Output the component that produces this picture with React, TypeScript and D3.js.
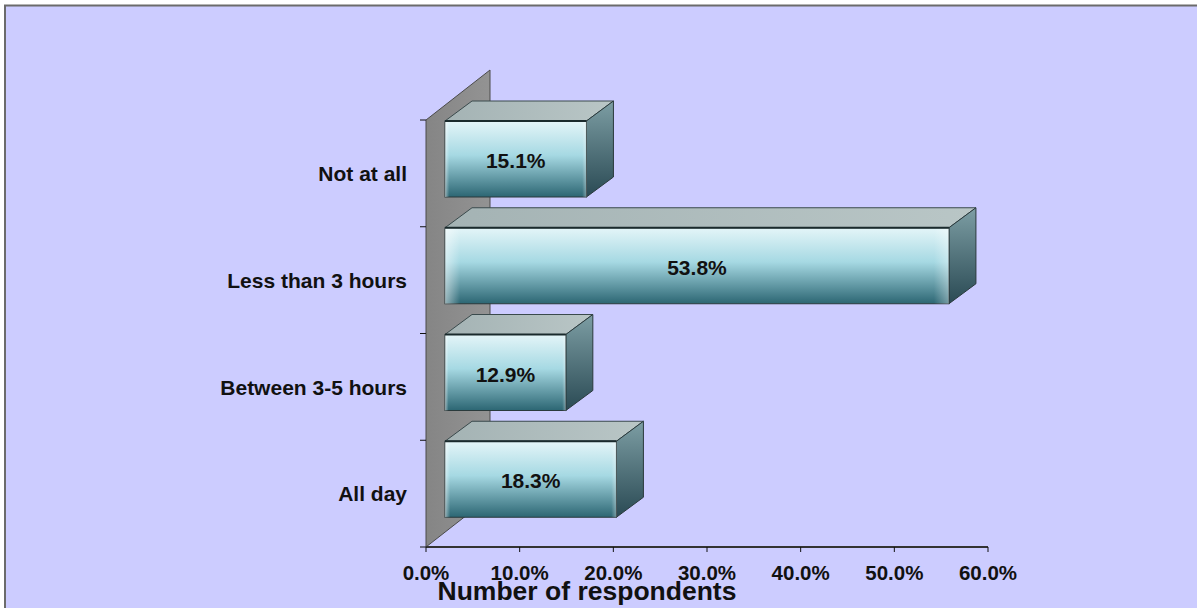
import React from 'react';
import * as d3 from 'd3';

const categories = ['Not at all', 'Less than 3 hours', 'Between 3-5 hours', 'All day'];
const values = [0.151, 0.538, 0.129, 0.183];
const xTicks = [0, 0.1, 0.2, 0.3, 0.4, 0.5, 0.6];
const xTitle = 'Number of respondents';

const W = 1197, H = 608;
const font = 'Arial, "Liberation Sans", sans-serif';

export default function App() {
    const x = d3.scaleLinear().domain([0, 0.6]).range([426, 988]);
    const y = d3.scaleBand().domain(categories).range([120, 547]);
    const fmt = d3.format('.1%');

    // 3D depth of wall and bars
    const wallDx = 64, wallDy = -50;
    const barDx = 27, barDy = -20;
    const barShift = 19;
    const barH = 76;

    const x0 = x(0);
    const yTop = y.range()[0], yBot = y.range()[1];

    return (
        <svg width={W} height={H} style={{ position: 'absolute', left: 0, top: 0 }}>
            <defs>
                <linearGradient id="front" x1="0" y1="0" x2="0" y2="1">
                    <stop offset="0" stopColor="#e4f5f8" />
                    <stop offset="0.45" stopColor="#a6d9e3" />
                    <stop offset="1" stopColor="#2c6673" />
                </linearGradient>
                <linearGradient id="frontEdge" x1="0" y1="0" x2="1" y2="0">
                    <stop offset="0" stopColor="#ffffff" stopOpacity="0.5" />
                    <stop offset="0.03" stopColor="#ffffff" stopOpacity="0" />
                    <stop offset="0.97" stopColor="#ffffff" stopOpacity="0" />
                    <stop offset="1" stopColor="#ffffff" stopOpacity="0.35" />
                </linearGradient>
                <linearGradient id="top" x1="0" y1="0" x2="1" y2="0">
                    <stop offset="0" stopColor="#a4b3b4" />
                    <stop offset="1" stopColor="#b9c6c6" />
                </linearGradient>
                <linearGradient id="side" x1="0" y1="0" x2="0" y2="1">
                    <stop offset="0" stopColor="#7d9ea4" />
                    <stop offset="1" stopColor="#2a4a54" />
                </linearGradient>
                <linearGradient id="wall" x1="0" y1="0" x2="1" y2="0">
                    <stop offset="0" stopColor="#858585" />
                    <stop offset="1" stopColor="#939393" />
                </linearGradient>
            </defs>
            <rect x={0} y={0} width={W} height={H} fill="#ffffff" />
            <rect x={5} y={5.5} width={W + 10} height={H + 10} fill="#ccccff" stroke="#6b6b6b" strokeWidth={2} />

            {/* back wall */}
            <polygon
                points={`${x0},${yTop} ${x0 + wallDx},${yTop + wallDy} ${x0 + wallDx},${yBot + wallDy} ${x0},${yBot}`}
                fill="url(#wall)" stroke="#4a4a4a" strokeWidth={1} />

            {/* axes */}
            <line x1={x0} x2={x(0.6)} y1={yBot} y2={yBot} stroke="#333" strokeWidth={2} />
            {xTicks.map(t => (
                <g key={t}>
                    <line x1={x(t)} x2={x(t)} y1={yBot} y2={yBot + 5} stroke="#111" strokeWidth={1} />
                    <text x={x(t)} y={580} textAnchor="middle" fontFamily={font} fontWeight="bold" fontSize={20.5} fill="#111">{fmt(t)}</text>
                </g>
            ))}
            {[...categories.map(c => y(c) as number), yBot].map((v, i) => (
                <line key={i} x1={x0 - 6} x2={x0} y1={v} y2={v} stroke="#111" strokeWidth={1} />
            ))}

            {/* bars */}
            {categories.map((c, i) => {
                const t = (y(c) as number) + 1;
                const b = t + barH;
                const l = x0 + barShift;
                const r = l + (x(values[i]) - x0);
                return (
                    <g key={c}>
                        <polygon points={`${l},${t} ${l + barDx},${t + barDy} ${r + barDx},${t + barDy} ${r},${t}`}
                            fill="url(#top)" stroke="#3a4a4c" strokeWidth={1} />
                        <polygon points={`${r},${t} ${r + barDx},${t + barDy} ${r + barDx},${b + barDy} ${r},${b}`}
                            fill="url(#side)" stroke="#2a3a3c" strokeWidth={1} />
                        <rect x={l} y={t} width={r - l} height={barH} fill="url(#front)" stroke="#2a3a3c" strokeWidth={1} />
                        <rect x={l} y={t} width={r - l} height={barH} fill="url(#frontEdge)" />
                        <line x1={l} x2={r} y1={t} y2={t} stroke="#1a2a2c" strokeWidth={2} />
                        <text x={(l + r) / 2} y={t + 47} textAnchor="middle" fontFamily={font} fontWeight="bold" fontSize={21} fill="#111">{fmt(values[i])}</text>
                        <text x={407} y={t + 60} textAnchor="end" fontFamily={font} fontWeight="bold" fontSize={21} fill="#111">{c}</text>
                    </g>
                );
            })}

            <text x={587} y={600} textAnchor="middle" fontFamily={font} fontWeight="bold" fontSize={26.5} fill="#111">{xTitle}</text>
        </svg>
    );
}
